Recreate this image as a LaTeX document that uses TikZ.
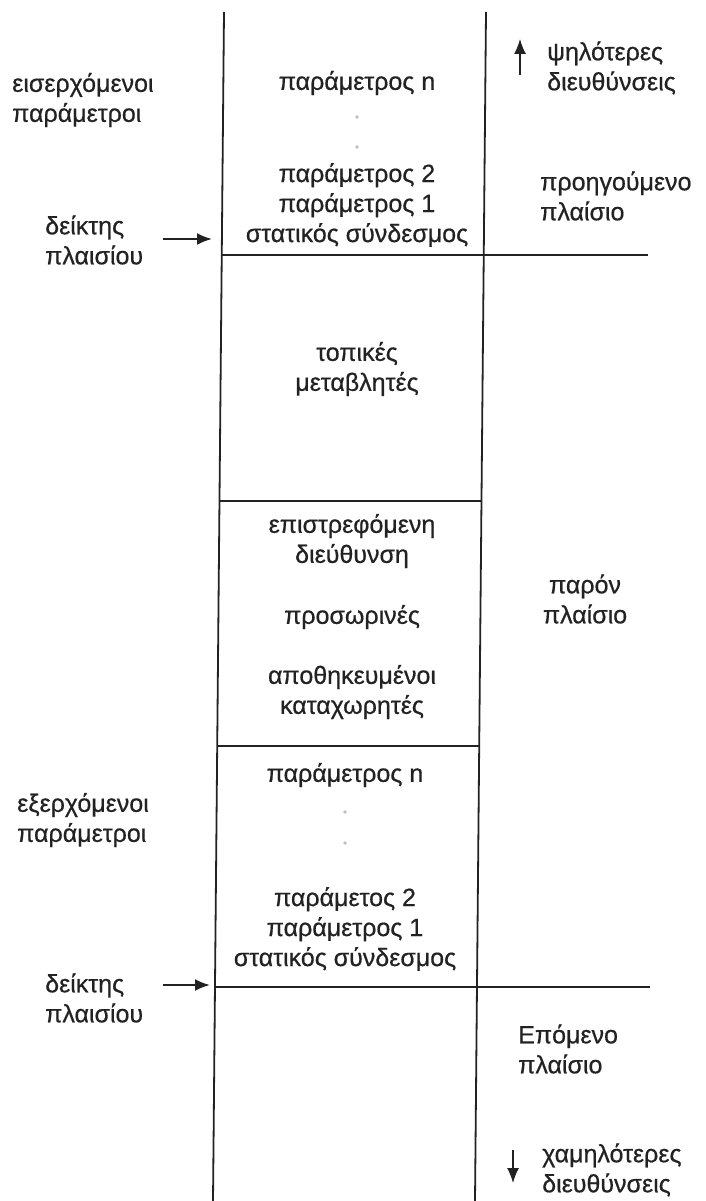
\documentclass[tikz,border=0pt]{standalone}
\usepackage{fontspec}
\setmainfont{Liberation Sans}[FakeBold=0.6]
\usetikzlibrary{arrows.meta}
\definecolor{ink}{HTML}{222222}
\tikzset{
  lbl/.style={text=ink, font=\fontsize{25}{30}\selectfont, align=center, inner sep=0pt},
  lbll/.style={lbl, align=left, anchor=west},
  wall/.style={draw=ink, line width=1.8pt},
  ptr/.style={-{Latex[length=15pt,width=12pt]}, draw=ink, line width=2pt},
  dot/.style={circle, fill=gray!50, inner sep=1.3pt},
}
\begin{document}
\begin{tikzpicture}[x=1pt,y=-1pt]
    \useasboundingbox (0,0) rectangle (705,1201);
    % stack walls
    \coordinate (tl) at (224,12);
    \coordinate (bl) at (213,1201);
    \coordinate (tr) at (486,12);
    \coordinate (br) at (475,1201);
    \draw[wall] (tl) -- (bl);
    \draw[wall] (tr) -- (br);
    \draw[wall] (221.7,255) -- (648,255);
    \draw[wall] (219.5,501) -- (481.5,501);
    \draw[wall] (217.2,746) -- (479.2,746);
    \draw[wall] (215,987) -- (650,987);

    % previous frame
    \node[lbl] (pn) at (357,83) {παράμετρος n};
    \node[dot] (d1) at (357,117) {};
    \node[dot] (d2) at (357,147) {};
    \node[lbl] (p21) at (357,205) {παράμετρος 2\\παράμετρος 1\\στατικός σύνδεσμος};
    \node[lbll] (inc) at (12,100) {εισερχόμενοι\\παράμετροι};
    \node[lbll] (fpA) at (45,240) {δείκτης\\πλαισίου};
    \coordinate (fpAtip) at (212,239);
    \draw[ptr, shorten <=20pt] (fpA.east |- fpAtip) -- (fpAtip);
    \node[lbll] (hi) at (547,68) {ψηλότερες\\διευθύνσεις};
    \coordinate (hiA) at (520,75);
    \coordinate (hiB) at (520,39);
    \draw[ptr, line width=1.4pt] (hiA) -- (hiB);
    \node[lbll] (prev) at (540,196) {προηγούμενο\\πλαίσιο};

    % current frame
    \node[lbl] (loc) at (357,369) {τοπικές\\μεταβλητές};
    \node[lbl] (ret) at (352,541) {επιστρεφόμενη\\διεύθυνση};
    \node[lbl] (tmp) at (352,617) {προσωρινές};
    \node[lbl] (reg) at (352,692) {αποθηκευμένοι\\καταχωρητές};
    \node[lbl] (cur) at (585,599) {παρόν\\πλαίσιο};

    % outgoing
    \node[lbl] (qn) at (345,775) {παράμετρος n};
    \node[dot] (d3) at (345,812) {};
    \node[dot] (d4) at (345,843) {};
    \node[lbl] (q21) at (345,929) {παράμετος 2\\παράμετρος 1\\στατικός σύνδεσμος};
    \node[lbll] (out) at (17,820) {εξερχόμενοι\\παράμετροι};
    \node[lbll] (fpB) at (45,998) {δείκτης\\πλαισίου};
    \coordinate (fpBtip) at (210,985);
    \draw[ptr, shorten <=20pt] (fpB.east |- fpBtip) -- (fpBtip);

    % next frame
    \node[lbll] (next) at (518,1049) {Επόμενο\\πλαίσιο};
    \node[lbll] (lo) at (542,1170) {χαμηλότερες\\διευθύνσεις};
    \coordinate (loA) at (513,1150);
    \coordinate (loB) at (513,1183);
    \draw[ptr, line width=1.4pt] (loA) -- (loB);
\end{tikzpicture}
\end{document}
